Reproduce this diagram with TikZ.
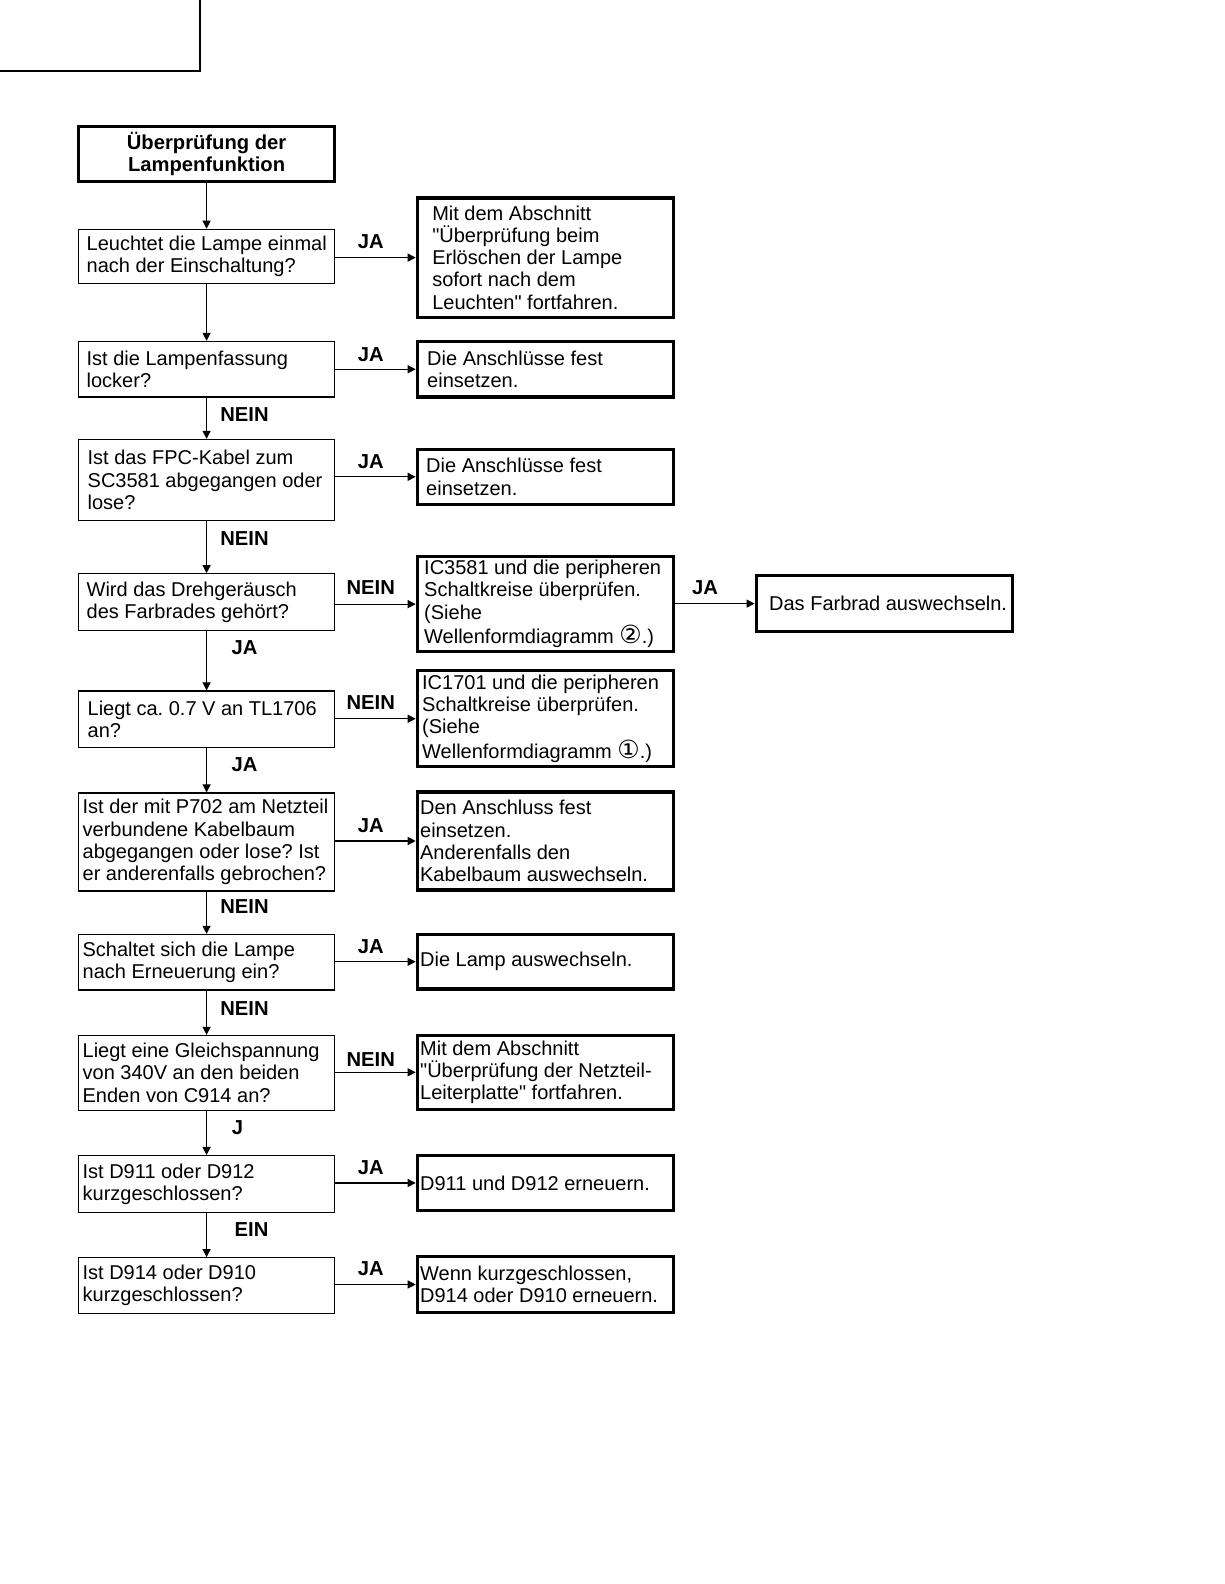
\documentclass[tikz,border=0pt]{standalone}
\usepackage{fontspec}
\setmainfont{Liberation Sans}[Ligatures=TeXOff]
\newfontfamily\circfont{DejaVu Sans}[Scale=1.25]
\usetikzlibrary{positioning}
\usetikzlibrary{arrows.meta}

\tikzset{
  qbox/.style={draw, line width=0.6pt, minimum width=126.5pt, inner sep=0pt},
  abox/.style={qbox, line width=1.5pt, minimum width=127pt},
  txt/.style={align=left, inner sep=0pt, anchor=west, font=\fontsize{9.9}{11}\selectfont},
  arr/.style={line width=0.6pt, -{Triangle[length=4pt,width=4pt]}},
  lab/.style={font=\bfseries\fontsize{10}{11}\selectfont, inner sep=0pt},
}

\begin{document}
\frenchspacing
\begin{tikzpicture}[x=0.5pt, y=-0.5pt]
  \useasboundingbox (0,0) rectangle (1212,1568);

  % corner mark
  \draw[line width=1pt] (0,70) -- (198,70) -- (198,0);

  % start
  \node[abox, minimum height=27.5pt, align=center,
    font=\bfseries\fontsize{10}{11}\selectfont] (t) at (204.5,152.5)
    {Überprüfung der\\Lampenfunktion};

  % questions
  \foreach \id/\y/\hh/\ins/\txt in {
    q1/254/54/8/{Leuchtet die Lampe einmal\\nach der Einschaltung?},
    q2/365.5/55/8/{Ist die Lampenfassung\\locker?},
    q3/475/80/9/{Ist das FPC-Kabel zum\\SC3581 abgegangen oder\\lose?},
    q4/596/56/8/{Wird das Drehgeräusch\\des Farbrades gehört?},
    q5/712/56/9/{Liegt ca. 0.7 V an TL1706\\an?},
    q6/833.5/97/4/{Ist der mit P702 am Netzteil\\verbundene Kabelbaum\\abgegangen oder lose? Ist\\er anderenfalls gebrochen?},
    q7/952.5/55/4/{Schaltet sich die Lampe\\nach Erneuerung ein?},
    q8/1062/74/4/{Liegt eine Gleichspannung\\von 340V an den beiden\\Enden von C914 an?},
    q9/1172/56/4/{Ist D911 oder D912\\kurzgeschlossen?},
    q10/1272.5/55/4/{Ist D914 oder D910\\kurzgeschlossen?}}
  {
    \node[qbox, minimum height=\hh*0.5pt] (\id) at (204.5,\y) {};
    \node[txt] (\id t) at ([xshift=\ins*0.5pt]\id.west) {\txt};
  }

  % actions
  \foreach \id/\x/\y/\hh/\ins/\txt in {
    r1/540/255/118/16/{Mit dem Abschnitt\\"Überprüfung beim\\Erlöschen der Lampe\\sofort nach dem\\Leuchten" fortfahren.},
    r2/540/365.5/55/11/{Die Anschlüsse fest\\einsetzen.},
    r3/540/472/54/10/{Die Anschlüsse fest\\einsetzen.},
    r4/540/598/94/8/{IC3581 und die peripheren\\Schaltkreise überprüfen.\\(Siehe\\Wellenformdiagramm {\circfont ②}.)},
    r5/540/711.5/95/6/{IC1701 und die peripheren\\Schaltkreise überprüfen.\\(Siehe\\Wellenformdiagramm {\circfont ①}.)},
    r6/540/832.5/97/4/{Den Anschluss fest\\einsetzen.\\Anderenfalls den\\Kabelbaum auswechseln.},
    r7/540/952/54/4/{Die Lamp auswechseln.},
    r8/540/1061.5/73/4/{Mit dem Abschnitt\\"Überprüfung der Netzteil-\\Leiterplatte" fortfahren.},
    r9/540/1171/54/4/{D911 und D912 erneuern.},
    r10/540/1271.5/55/4/{Wenn kurzgeschlossen,\\D914 oder D910 erneuern.},
    f/875.5/597.5/55/14/{Das Farbrad auswechseln.}}
  {
    \node[abox, minimum height=\hh*0.5pt] (\id) at (\x,\y) {};
    \node[txt] (\id t) at ([xshift=\ins*0.5pt]\id.west) {\txt};
  }

  % connectors
  \foreach \a/\b in {t/q1, q1/q2, q2/q3, q3/q4, q4/q5, q5/q6, q6/q7, q7/q8, q8/q9, q9/q10}
    \draw[arr] (\a) -- (\b);
  \foreach \a/\b in {q1/r1, q2/r2, q3/r3, q4/r4, q5/r5, q6/r6, q7/r7, q8/r8, q9/r9, q10/r10, r4/f}
    \draw[arr] (\b.west -| \a.east) -- (\b.west);

  % answers
  \foreach \x/\y/\t [count=\i] in {242/410/NEIN, 242/533/NEIN, 242/641/JA, 242/757/JA,
      242/897/NEIN, 242/998/NEIN, 235/1116/J, 249/1217/EIN,
      367/239/JA, 367/351/JA, 367/457/JA, 367/582/NEIN, 367/695/NEIN, 367/817/JA,
      367/937/JA, 367/1049/NEIN, 367/1156/JA, 367/1256/JA, 698/582/JA}
    \node[lab] (a\i) at (\x,\y) {\t};
\end{tikzpicture}
\end{document}
